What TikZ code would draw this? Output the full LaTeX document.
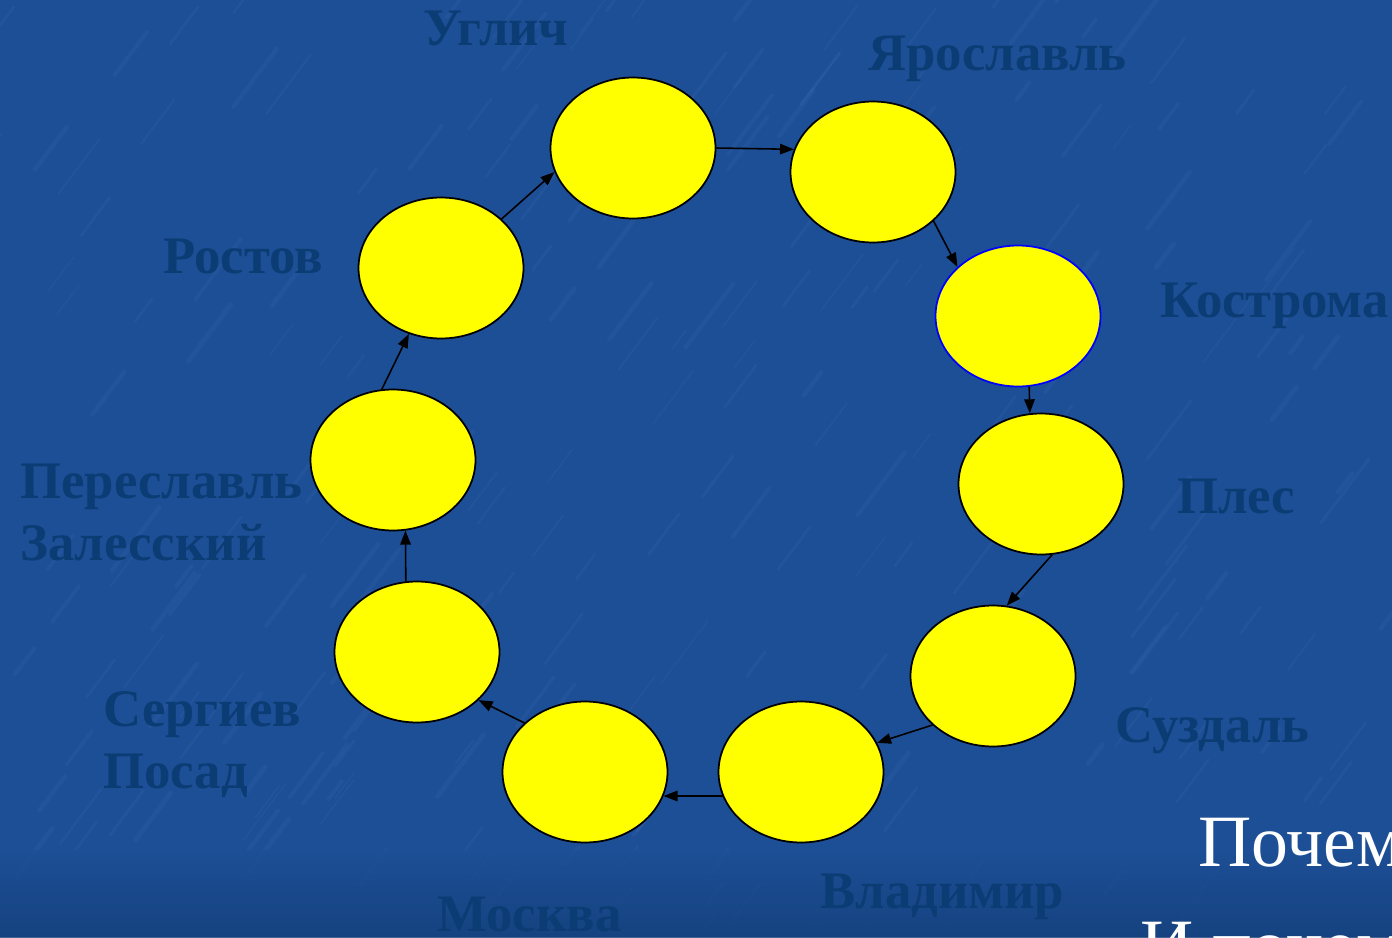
\documentclass[tikz,border=0pt]{standalone}
\usepackage{fontspec}
\setmainfont{Liberation Serif}
\usepackage{tikz}
\usetikzlibrary{arrows.meta,shapes.geometric}
\definecolor{slideblue}{HTML}{1D4F96}
\definecolor{slidedark}{HTML}{143F7A}
\definecolor{slidelight}{HTML}{4C7DC0}
\definecolor{citynavy}{HTML}{0B3C74}
\definecolor{townyellow}{HTML}{FFFF00}

\begin{document}
\begin{tikzpicture}[
  x=0.02cm, y=-0.02cm,
  town/.style={ellipse, draw=black, line width=1pt, fill=townyellow, minimum width=3.3cm, minimum height=2.82cm, inner sep=0pt},
  city/.style={anchor=base west, text=citynavy, font=\fontsize{30}{35}\selectfont\bfseries, inner sep=0pt, align=left},
  question/.style={anchor=base west, text=white, font=\fontsize{42}{48}\selectfont, inner sep=0pt},
  arrow/.style={-{Triangle[length=2.8mm,width=2.1mm]}, line width=0.9pt}
]
\useasboundingbox (0,0) rectangle (1392,937);
\fill[slideblue] (0,0) rectangle (1392,937);
\clip (0,0) rectangle (1392,937);
% mottled streaks of the slide background
\pgfmathsetseed{7}
\foreach \i in {1,...,260} {
  \pgfmathsetmacro{\sx}{rnd*1450-30}
  \pgfmathsetmacro{\sy}{rnd*980-20}
  \pgfmathsetmacro{\sl}{20+rnd*60}
  \pgfmathsetmacro{\sw}{0.6+rnd*2.2}
  \draw[slidelight, opacity=0.13, line width=\sw pt, line cap=round]
    (\sx,\sy) -- ++(\sl*0.6,-\sl*0.8);
}
\shade[top color=slideblue, bottom color=slidedark, opacity=0.8] (0,850) rectangle (1392,937);

% the ring of towns
\node[town] (uglich) at (633,148) {};
\node[town] (yar) at (873,172) {};
\node[town, draw=blue] (kost) at (1018,316) {};
\node[town] (ples) at (1041,484) {};
\node[town] (suzd) at (993,676) {};
\node[town] (vlad) at (801,772) {};
\node[town] (mosk) at (585,772) {};
\node[town] (serg) at (417,652) {};
\node[town] (peres) at (393,460) {};
\node[town] (rost) at (441,268) {};

\foreach \a/\b in {uglich.0/yar.164, yar.-39/kost.141, kost.-81/ples.99,
    ples.-81/suzd.79, suzd.-141/vlad.21, vlad.197/mosk.-17, mosk.141/serg.-38,
    serg.99/peres.-80, peres.99/rost.-116, rost.39/uglich.197} {
  \draw[arrow] (\a) -- (\b);
}

% names
\node[city] (nUglich) at (423,45) {Углич};
\node[city] (nYar) at (868,70) {Ярославль};
\node[city] (nKost) at (1160,317) {Кострома};
\node[city] (nPles) at (1177,513) {Плес};
\node[city] (nSuzd) at (1115,742) {Суздаль};
\node[city] (nVlad) at (820,908) {Владимир};
\node[city] (nMosk) at (437,931) {Москва};
\node[city] (nSerg) at (103,788) {Сергиев\\Посад};
\node[city] (nPeres) at (20,560) {Переславль\\Залесский};
\node[city] (nRost) at (163,273) {Ростов};

\node[question] (q1) at (1198,866) {Почем};
\node[question] (q2) at (1140,970) {И почем};
\end{tikzpicture}
\end{document}
